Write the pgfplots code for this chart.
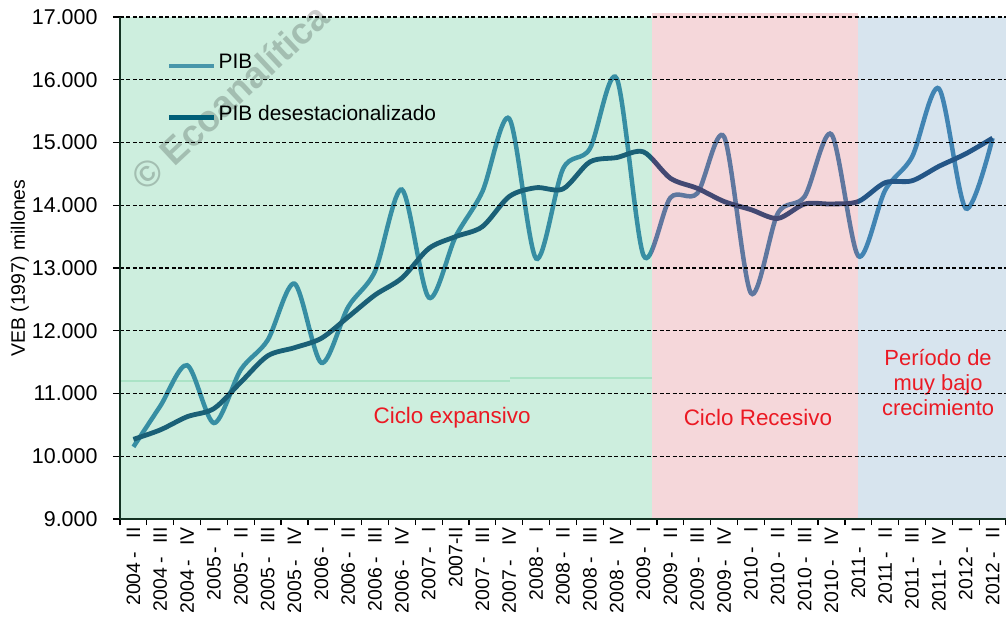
\documentclass[border=0pt]{standalone}
\usepackage{pgfplots}
\pgfplotsset{compat=1.18}
\usepackage{pgfplotstable}
\usepackage{fontspec}
\setmainfont{Liberation Sans}
\definecolor{pibc}{RGB}{41,119,172}
\definecolor{desc}{RGB}{0,52,108}
\definecolor{legpib}{RGB}{72,150,170}
\definecolor{legdes}{RGB}{0,95,120}
\definecolor{greenov}{RGB}{88,198,145}
\definecolor{redov}{RGB}{222,122,132}
\definecolor{blueov}{RGB}{122,165,198}
\definecolor{axcol}{RGB}{20,50,35}
\definecolor{regred}{RGB}{235,25,35}
\definecolor{faint}{RGB}{208,240,222}
\pgfplotstableread{
x pib des
0 10.15 10.27
1 10.80 10.42
2 11.45 10.63
3 10.53 10.76
4 11.38 11.18
5 11.85 11.60
6 12.75 11.73
7 11.49 11.88
8 12.38 12.22
9 12.95 12.57
10 14.25 12.84
11 12.53 13.31
12 13.50 13.50
13 14.22 13.66
14 15.38 14.14
15 13.15 14.28
16 14.58 14.26
17 14.90 14.69
18 16.02 14.76
19 13.20 14.85
20 14.12 14.43
21 14.19 14.27
22 15.09 14.06
23 12.60 13.93
24 13.87 13.79
25 14.14 14.02
26 15.13 14.02
27 13.19 14.06
28 14.24 14.36
29 14.77 14.39
30 15.86 14.62
31 13.95 14.82
32 15.07 15.07
}\datatable
\newcommand{\q}[2]{#1\hspace{4bp}-\hspace{14bp}#2}
\begin{document}
\begin{tikzpicture}
\begin{axis}[
  scale only axis, width=886bp, height=502bp,
  xmin=-0.5, xmax=32.5, ymin=9, ymax=17,
  clip=false, axis on top,
  axis x line*=bottom, axis y line*=left,
  axis line style={line width=2bp, color=axcol},
  ytick={9,10,...,17},
  yticklabels={9.000,10.000,11.000,12.000,13.000,14.000,15.000,16.000,17.000},
  ymajorgrids,
  major grid style={black, line width=1.1bp, dash pattern=on 4bp off 2.5bp},
  xtick={0,1,...,32},
  xticklabels={\q{2004}{II},\q{2004}{III},\q{2004}{IV},\q{2005}{I},\q{2005}{II},\q{2005}{III},\q{2005}{IV},\q{2006}{I},\q{2006}{II},\q{2006}{III},\q{2006}{IV},\q{2007}{I},2007-II\hspace{10bp},\q{2007}{III},\q{2007}{IV},\q{2008}{I},\q{2008}{II},\q{2008}{III},\q{2008}{IV},\q{2009}{I},\q{2009}{II},\q{2009}{III},\q{2009}{IV},\q{2010}{I},\q{2010}{II},\q{2010}{III},\q{2010}{IV},\q{2011}{I},\q{2011}{II},\q{2011}{III},\q{2011}{IV},\q{2012}{I},\q{2012}{II}},
  minor xtick={-0.5,0.5,...,32.5},
  tick align=outside,
  major tick length=7bp, minor tick length=6bp,
  tick style={black, line width=1.2bp},
  major x tick style={draw=none},
  minor tick style={black, line width=1.2bp},
  y tick label style={font=\fontsize{21.5}{25}\selectfont, xshift=-12bp},
  x tick label style={rotate=90, anchor=east, font=\fontsize{19.5}{24}\selectfont, inner sep=1bp},
  ylabel={VEB (1997) millones},
  ylabel style={at={(axis description cs:-0.1129,0.5)}, anchor=center, font=\fontsize{19.5}{24}\selectfont},
  legend style={draw=none, fill=none, at={(axis cs:1.25,16.33)}, anchor=north west,
    font=\fontsize{21}{25}\selectfont, row sep=38bp, inner sep=0pt,
    nodes={inner sep=2bp, text depth=0.22em, text height=0.75em}},
  legend cell align=left,
  legend image code/.code={\draw[#1] (0bp,0bp) -- (45bp,0bp);},
]
\addlegendimage{line width=4.5bp, color=legpib}
\addlegendentry{PIB}
\addlegendimage{line width=4.5bp, color=legdes}
\addlegendentry{PIB desestacionalizado}
\draw[faint, line width=1.5bp] (axis cs:-0.5,11.2) -- (axis cs:14.03,11.2);
\draw[faint, line width=1.5bp] (axis cs:14.03,11.247) -- (axis cs:19.31,11.247);
\addplot[forget plot, color=pibc, line width=4.5bp, smooth, tension=0.5] table[x=x, y=pib] {\datatable};
\addplot[forget plot, color=desc, line width=4.8bp, smooth, tension=0.5] table[x=x, y=des] {\datatable};
\fill[greenov, fill opacity=0.3] (axis cs:-0.5,9) rectangle (axis cs:19.31,17);
\fill[redov, fill opacity=0.3] (axis cs:19.31,9) rectangle (axis cs:26.99,17.065);
\fill[blueov, fill opacity=0.3] (axis cs:26.99,9) rectangle (axis cs:32.5,17);
\node[text=regred, font=\fontsize{22.5}{26}\selectfont] at (axis cs:11.87,10.61) {Ciclo expansivo};
\node[text=regred, font=\fontsize{22.5}{26}\selectfont] at (axis cs:23.26,10.61) {Ciclo Recesivo};
\node[text=regred, font=\fontsize{22}{25}\selectfont, align=center] at (axis cs:29.97,11.18) {Período de\\muy bajo\\crecimiento};
\node[text=black, text opacity=0.2, font=\fontsize{37}{44}\selectfont\bfseries, rotate=43] at (axis cs:3.6,15.73) {© Ecoanalítica};
\coordinate (bl) at (rel axis cs:0,0);
\coordinate (tr) at (rel axis cs:1,1);
\end{axis}
\pgfresetboundingbox
\path ([xshift=-120bp,yshift=-104bp]bl) rectangle ([yshift=17bp]tr);
\end{tikzpicture}
\end{document}
